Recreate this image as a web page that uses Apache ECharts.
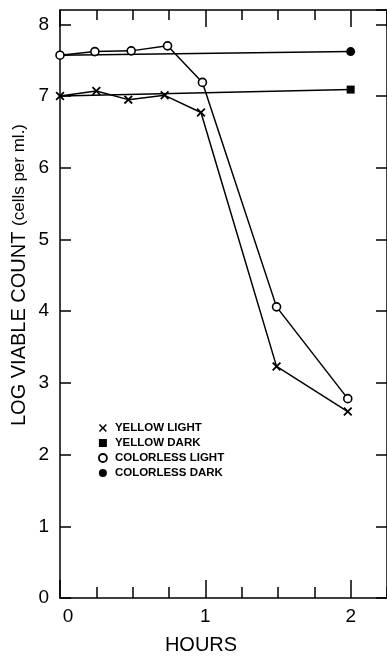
<!DOCTYPE html>
<html><head><meta charset="utf-8">
<script src="https://cdn.jsdelivr.net/npm/echarts@6/dist/echarts.min.js"></script>
<style>html,body{margin:0;padding:0;background:#fff}#c{width:387px;height:659px}</style>
</head><body><div id="c"></div>
<script>
const yellowLight = [[0,7.0],[0.25,7.07],[0.47,6.95],[0.72,7.01],[0.97,6.77],[1.49,3.23],[1.98,2.6]];
const yellowDark = [[0,7.0],[2,7.09]];
const colorlessLight = [[0,7.57],[0.24,7.62],[0.49,7.63],[0.74,7.70],[0.98,7.19],[1.49,4.06],[1.98,2.78]];
const colorlessDark = [[0,7.57],[2,7.62]];
const seriesNames = ['YELLOW LIGHT','YELLOW DARK','COLORLESS LIGHT','COLORLESS DARK'];
const xTickLabels = ['0','1','2'];
const yTickLabels = ['0','1','2','3','4','5','6','7','8'];

const XPATH = 'path://M0,1.4 L1.4,0 L5,3.6 L8.6,0 L10,1.4 L6.4,5 L10,8.6 L8.6,10 L5,6.4 L1.4,10 L0,8.6 L3.6,5 Z';
const FONT = 'Liberation Sans, Arial, sans-serif';
const chart = echarts.init(document.getElementById('c'), null, {renderer:'canvas'});
const GL = 60, GW = 2.25*146.5, GT = 10, GB = 61;
const xBase = {type:'value', min:0, max:2.25, gridIndex:0, splitLine:{show:false}};
const yBase = {type:'value', min:0, max:8.2, interval:1, splitLine:{show:false}};
function withFirstHidden(arr){ return arr.map((p,i)=> i===0 ? {value:p, symbol:'none'} : {value:p}); }
const lineStyle = {color:'#000', width:1.5};
const axLine = {show:true, onZero:false, lineStyle:{color:'#000', width:1.5}};
const noLine = {show:false, onZero:false};
chart.setOption({
  animation:false,
  backgroundColor:'#fff',
  grid:{left:GL, top:GT, width:GW, bottom:GB, containLabel:false},
  xAxis:[
    Object.assign({}, xBase, {position:'bottom', interval:0.25, axisLine:axLine,
      axisTick:{show:true, inside:true, length:11, lineStyle:{color:'#000', width:1.5}},
      axisLabel:{show:false}}),
    Object.assign({}, xBase, {position:'bottom', interval:1, axisLine:noLine,
      axisTick:{show:true, inside:true, length:18, lineStyle:{color:'#000', width:1.5}},
      axisLabel:{show:true, margin:9, color:'#000', fontSize:19, fontFamily:FONT, showMaxLabel:false,
        formatter:(v)=> { const i = Math.round(v); if (!(Math.abs(v-i)<1e-6 && xTickLabels[i]!==undefined)) return ''; return i===0 ? '{z|'+xTickLabels[i]+'}' : xTickLabels[i]; },
        rich:{z:{fontSize:19, fontFamily:FONT, color:'#000', padding:[0,0,0,16]}}}}),
    Object.assign({}, xBase, {position:'top', interval:0.25, axisLine:axLine,
      axisTick:{show:true, inside:true, length:10, lineStyle:{color:'#000', width:1.5}},
      axisLabel:{show:false}}),
    Object.assign({}, xBase, {position:'top', interval:1, axisLine:noLine,
      axisTick:{show:true, inside:true, length:17, lineStyle:{color:'#000', width:1.5}},
      axisLabel:{show:false}})
  ],
  yAxis:[
    Object.assign({}, yBase, {position:'left', axisLine:axLine,
      axisTick:{show:true, inside:true, length:11, lineStyle:{color:'#000', width:1.5}},
      axisLabel:{show:true, margin:11, color:'#000', fontSize:19, fontFamily:FONT, showMaxLabel:false,
        formatter:(v)=> { const i = Math.round(v); return (Math.abs(v-i)<1e-6 && yTickLabels[i]!==undefined) ? yTickLabels[i] : ''; }}}),
    Object.assign({}, yBase, {position:'right', axisLine:axLine,
      axisTick:{show:true, inside:true, length:11, lineStyle:{color:'#000', width:1.5}},
      axisLabel:{show:false}})
  ],
  legend:{
    orient:'vertical', left:93, top:417, itemWidth:8, itemHeight:8, itemGap:3,
    textStyle:{color:'#000', fontSize:11.5, fontWeight:'bold', fontFamily:FONT, padding:[0,0,0,3]},
    data:[
      {name:seriesNames[0], icon:XPATH, itemStyle:{color:'#000', borderWidth:0}},
      {name:seriesNames[1], icon:'rect', itemStyle:{color:'#000', borderWidth:0}},
      {name:seriesNames[2], icon:'circle', itemStyle:{color:'#fff', borderColor:'#000', borderWidth:1.8}},
      {name:seriesNames[3], icon:'circle', itemStyle:{color:'#000', borderWidth:0}}
    ]
  },
  graphic:[{
    type:'text', x:19, y:275, rotation:Math.PI/2,
    style:{
      text:'{a|LOG VIABLE COUNT }{b|(cells per ml.)}',
      align:'center', verticalAlign:'middle', fill:'#000',
      rich:{a:{fontSize:20, fontFamily:FONT, fill:'#000'}, b:{fontSize:17, fontFamily:FONT, fill:'#000'}}
    }
  },{
    type:'text', x:201, y:645,
    style:{text:'HOURS', align:'center', verticalAlign:'middle', fill:'#000', fontSize:20, fontFamily:FONT}
  }],
  series:[
    {name:seriesNames[3], type:'line', xAxisIndex:0, yAxisIndex:0, data:withFirstHidden(colorlessDark),
      symbol:'circle', symbolSize:9, lineStyle, itemStyle:{color:'#000'}, z:2},
    {name:seriesNames[1], type:'line', xAxisIndex:0, yAxisIndex:0, data:withFirstHidden(yellowDark),
      symbol:'rect', symbolSize:8, lineStyle, itemStyle:{color:'#000'}, z:2},
    {name:seriesNames[2], type:'line', xAxisIndex:0, yAxisIndex:0, data:colorlessLight,
      symbol:'circle', symbolSize:8, lineStyle, itemStyle:{color:'#fff', borderColor:'#000', borderWidth:1.6}, z:3},
    {name:seriesNames[0], type:'line', xAxisIndex:0, yAxisIndex:0, data:yellowLight,
      symbol:XPATH, symbolSize:9, lineStyle, itemStyle:{color:'#000', borderWidth:0}, z:3}
  ]
});
</script></body></html>
